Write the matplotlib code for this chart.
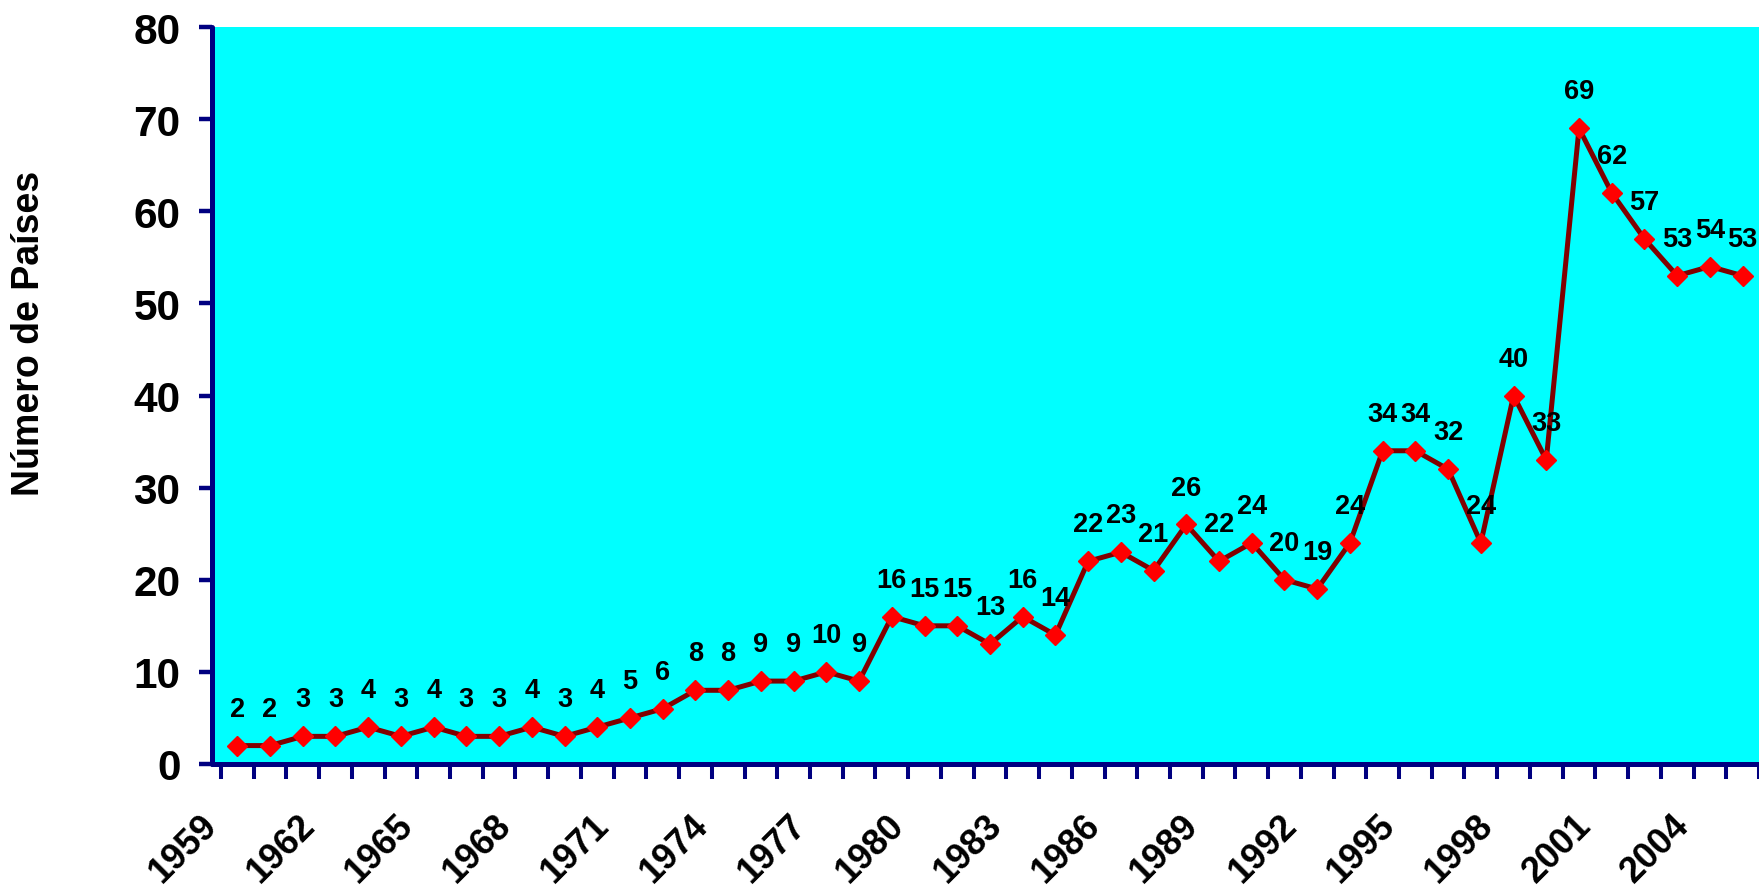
import matplotlib
matplotlib.use("Agg")
import matplotlib.pyplot as plt
import numpy as np

# ---- data ----
years = list(range(1959, 2006))
values = [2, 2, 3, 3, 4, 3, 4, 3, 3, 4,
          3, 4, 5, 6, 8, 8, 9, 9, 10, 9,
          16, 15, 15, 13, 16, 14, 22, 23, 21, 26,
          22, 24, 20, 19, 24, 34, 34, 32, 24, 40,
          33, 69, 62, 57, 53, 54, 53]
label_years = list(range(1959, 2006, 3))
y_ticks = [0, 10, 20, 30, 40, 50, 60, 70, 80]
y_label = "Número de Países"

plt.rcParams['font.family'] = ['Liberation Sans', 'DejaVu Sans']
plt.rcParams['font.weight'] = 'bold'

NAVY = "#000080"
fig = plt.figure(figsize=(17.59, 8.87), dpi=100)
ax = fig.add_axes([211.5 / 1759, 122 / 887, (1759 - 211.5) / 1759, 737 / 887])
ax.set_facecolor("#00FFFF")

x = np.arange(len(years))
ax.plot(x, values, color="#800000", lw=3.6, marker="D", ms=10,
        mfc="#FF0000", mec="#FF0000", mew=1, zorder=3, clip_on=False)

for xi, v in zip(x, values):
    ax.annotate(str(v), (xi, v), xytext=(0, 26.6), textcoords="offset points",
                ha="center", va="center", fontsize=19.5, fontweight="bold",
                color="black", annotation_clip=False, zorder=4)

ax.set_xlim(-0.5, len(years) - 0.5)
ax.set_ylim(0, 80)

# spines
for s in ["top", "right"]:
    ax.spines[s].set_visible(False)
for s in ["left", "bottom"]:
    ax.spines[s].set_color(NAVY)
    ax.spines[s].set_linewidth(3.6)
    ax.spines[s].set_capstyle("round")

# y axis
ax.set_yticks(y_ticks)
ax.set_yticklabels([str(t) for t in y_ticks])
ax.tick_params(axis="y", direction="out", length=9.4, width=3.2, color=NAVY,
               pad=13, labelsize=30.5)

# x axis: tick marks at category boundaries (minor), labels (major, no mark)
ax.set_xticks(np.arange(len(years) + 1) - 0.5, minor=True)
lab_idx = [years.index(y) for y in label_years]
ax.set_xticks(np.array(lab_idx) - 0.5 - 9.5 / 32.93)
ax.set_xticklabels([str(y) for y in label_years])
ax.tick_params(axis="x", which="minor", direction="out", length=10.8, width=2.9,
               color=NAVY)
ax.tick_params(axis="x", which="major", length=0, pad=40, labelsize=26)
for lab in ax.get_xticklabels():
    lab.set_rotation(45)
    lab.set_ha("right")
    lab.set_va("center")
    lab.set_rotation_mode("anchor")
    lab.set_fontweight("bold")
for lab in ax.get_yticklabels():
    lab.set_fontweight("bold")

fig.text(29 / 1759, 1 - 333 / 887, y_label, rotation=90, ha="center",
         va="center", fontsize=27, fontweight="bold", color="black")

fig.savefig("out.png", dpi=100)
